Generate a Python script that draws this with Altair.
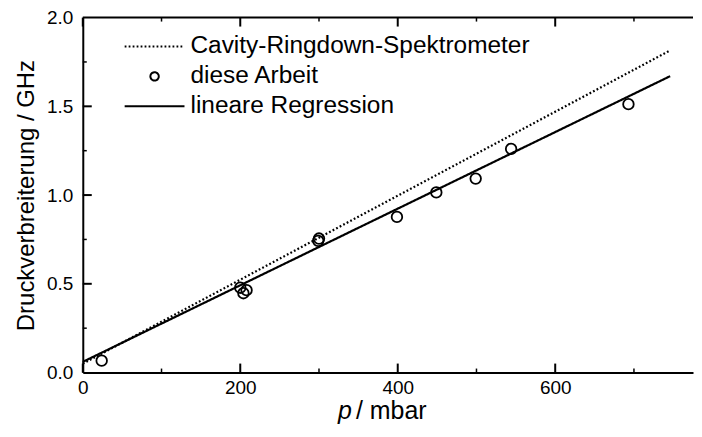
import altair as alt
import pandas as pd

# ---- data ----
series = ["Cavity-Ringdown-Spektrometer", "diese Arbeit", "lineare Regression"]

p_meas = [24, 200, 204, 208, 299, 300, 399, 449, 499, 544, 693]
w_meas = [0.067, 0.478, 0.447, 0.464, 0.742, 0.755, 0.877, 1.015, 1.093, 1.260, 1.512]

line_p = [0, 746]
crd_w = [0.05, 1.815]
reg_w = [0.06, 1.67]

x_major = [0, 200, 400, 600]
x_minor = [100, 300, 500, 700]
y_labels = [0.0, 0.5, 1.0, 1.5, 2.0]
y_major = [0.5, 1.0, 1.5]
y_minor = [0.25, 0.75, 1.25, 1.75]

W, H = 612, 356
FONT = "Liberation Sans"

xscale = alt.Scale(domain=[0, 775], nice=False, zero=False)
yscale = alt.Scale(domain=[0, 2], nice=False)

pts = pd.DataFrame({"p": p_meas, "w": w_meas, "series": [series[1]] * len(p_meas)})
lines = pd.DataFrame({
    "p": line_p + line_p,
    "w": crd_w + reg_w,
    "series": [series[0]] * 2 + [series[2]] * 2,
})

LINE_PATH = "M-1,0L1,0"
CIRC_PATH = "M0.14,0A0.14,0.14 0 1,1 -0.14,0A0.14,0.14 0 1,1 0.14,0Z"

legend = alt.Legend(
    orient="none", legendX=41, legendY=14, title=None,
    labelFont=FONT, labelFontSize=24.5, labelColor="black", labelLimit=0,
    symbolSize=3600, symbolStrokeWidth=2, symbolStrokeColor="black",
    symbolFillColor="transparent", symbolOpacity=1, clipHeight=30, labelOffset=5,
    rowPadding=0, padding=0,
)
shape_scale = alt.Scale(domain=series, range=[LINE_PATH, CIRC_PATH, LINE_PATH])
dash_scale = alt.Scale(domain=series, range=[[1.8, 2.2], [1, 0], [1, 0]])

x_axis = alt.Axis(values=x_major, labelFont=FONT, labelFontSize=19, labelColor="black",
                  ticks=False, domainWidth=2, domainColor="black", grid=False,
                  title=None, labelPadding=6, labelFlush=False)
y_axis = alt.Axis(values=y_labels, format=".1f", labelFont=FONT, labelFontSize=19,
                  labelColor="black", ticks=False, domainWidth=2, domainColor="black",
                  grid=False, title="Druckverbreiterung / GHz", titleFont=FONT,
                  titleFontSize=24, titleFontWeight="normal", titleColor="black",
                  titlePadding=8, labelPadding=10, labelFlush=False)

line_layer = alt.Chart(lines).mark_line(color="black", strokeWidth=2.2).encode(
    x=alt.X("p:Q", scale=xscale, axis=x_axis),
    y=alt.Y("w:Q", scale=yscale, axis=y_axis),
    strokeDash=alt.StrokeDash("series:N", scale=dash_scale, legend=legend),
    detail="series:N",
)

point_layer = alt.Chart(pts).mark_point(filled=False, color="black", opacity=1,
                                        strokeWidth=1.8, size=5730).encode(
    x=alt.X("p:Q", scale=xscale, axis=x_axis),
    y=alt.Y("w:Q", scale=yscale, axis=y_axis),
    shape=alt.Shape("series:N", scale=shape_scale, legend=legend),
)


def xticks(vals, length, top, sw):
    df = pd.DataFrame({"v": vals})
    if top:
        yy, yy2 = alt.value(0), alt.value(length)
    else:
        yy, yy2 = alt.value(H), alt.value(H - length)
    return alt.Chart(df).mark_rule(color="black", strokeWidth=sw).encode(
        x=alt.X("v:Q", scale=xscale, axis=x_axis), y=yy, y2=yy2)


def yticks(vals, length, sw):
    df = pd.DataFrame({"v": vals})
    return alt.Chart(df).mark_rule(color="black", strokeWidth=sw).encode(
        y=alt.Y("v:Q", scale=yscale, axis=y_axis), x=alt.value(0), x2=alt.value(length))


top_border = alt.Chart(pd.DataFrame({"a": [0]})).mark_rule(color="black", strokeWidth=2).encode(
    x=alt.value(0), x2=alt.value(W), y=alt.value(0))

title_p = alt.Chart(pd.DataFrame({"t": ["p"]})).mark_text(
    font=FONT, fontSize=25, fontStyle="italic", align="left", baseline="alphabetic", color="black"
).encode(text="t:N", x=alt.value(256), y=alt.value(H + 47))
title_rest = alt.Chart(pd.DataFrame({"t": ["/ mbar"]})).mark_text(
    font=FONT, fontSize=25, align="left", baseline="alphabetic", color="black"
).encode(text="t:N", x=alt.value(274), y=alt.value(H + 47))

chart = alt.layer(
    line_layer,
    point_layer,
    xticks(x_major, 9, False, 2),
    xticks(x_minor, 4, False, 1.5),
    xticks(x_major, 9, True, 2),
    xticks(x_minor, 4, True, 1.5),
    yticks(y_major, 9, 2),
    yticks(y_minor, 4, 1.5),
    top_border,
    title_p,
    title_rest,
).properties(
    width=W, height=H,
    padding={"left": 6, "top": 0, "right": 0, "bottom": 0},
    background="white",
).configure_view(stroke=None)

chart.save("out.html", embed_options={"renderer": "svg", "actions": False})
